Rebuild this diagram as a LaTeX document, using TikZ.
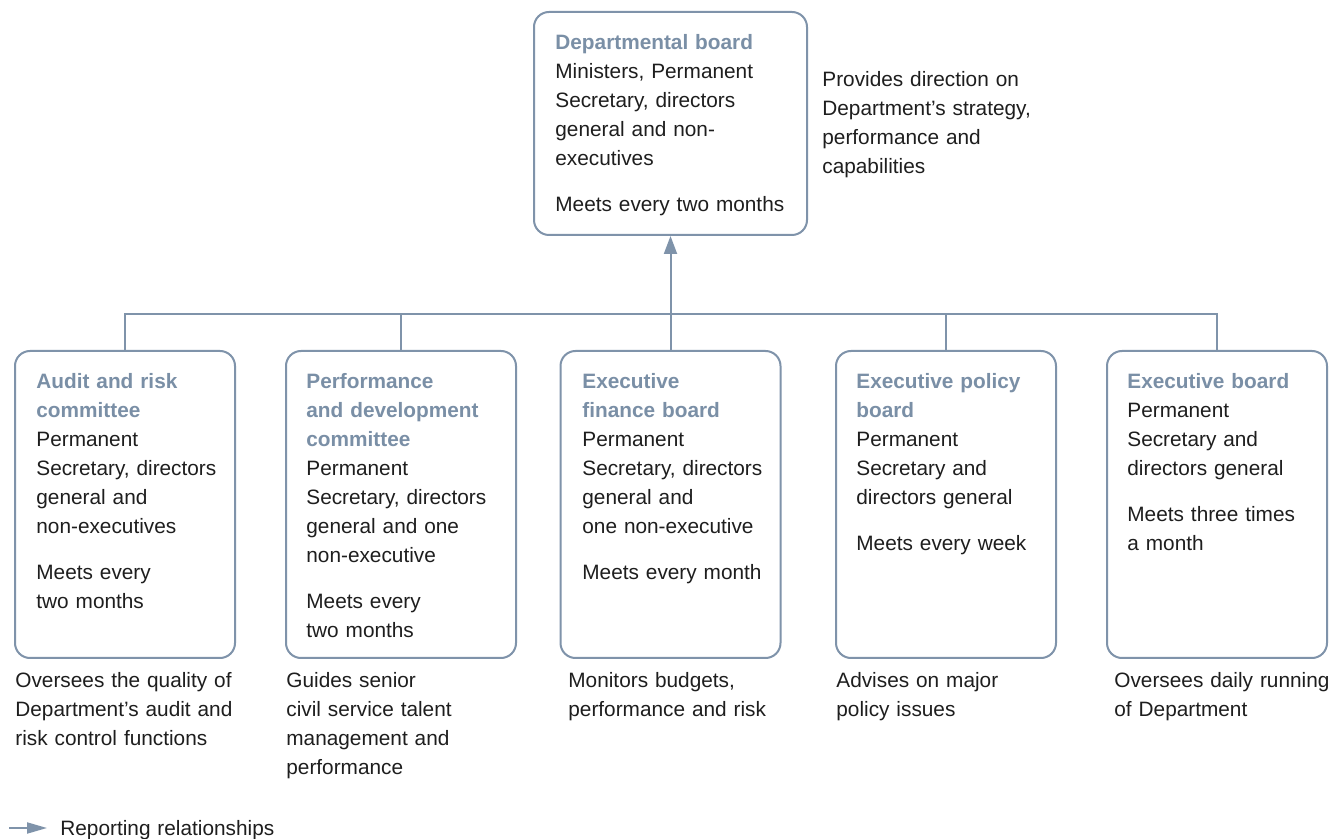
\documentclass[tikz,border=0pt]{standalone}
\usepackage{fontspec}
\setmainfont{Liberation Sans}
\usetikzlibrary{arrows.meta}
\definecolor{lineblue}{RGB}{127,147,170}
\definecolor{titleblue}{RGB}{122,143,166}
\definecolor{bodytext}{RGB}{30,30,30}
\newcommand\bxtitle[1]{{\bfseries\color{titleblue}#1}}
\begin{document}
\begin{tikzpicture}[x=0.5pt,y=-0.5pt,
  board/.style={draw=lineblue,line width=1pt,rounded corners=7.5pt,inner sep=0pt,fill=white},
  txt/.style={anchor=base west,inner sep=0pt,text width=150pt,align=left,
    font=\fontsize{10.4}{14.5}\selectfont,text=bodytext},
  conn/.style={draw=lineblue,line width=1pt}]
\useasboundingbox[fill=white] (0,0) rectangle (1330,839);
% boxes
\node[board,minimum width=136.5pt,minimum height=111.5pt] (top) at (670.5,123.5) {};
\node[board,minimum width=110pt,minimum height=153.5pt] (b1) at (125,504.5) {};
\node[board,minimum width=115pt,minimum height=153.5pt] (b2) at (401,504.5) {};
\node[board,minimum width=110pt,minimum height=153.5pt] (b3) at (670.5,504.5) {};
\node[board,minimum width=110pt,minimum height=153.5pt] (b4) at (946,504.5) {};
\node[board,minimum width=110pt,minimum height=153.5pt] (b5) at (1217,504.5) {};
% connectors
\coordinate (hub) at (670.5,314);
\draw[conn] (b1.north) -- (b1.north |- hub) -- (b5.north |- hub) -- (b5.north);
\draw[conn] (b2.north) -- (b2.north |- hub);
\draw[conn] (b3.north) -- (hub);
\draw[conn] (b4.north) -- (b4.north |- hub);
\draw[conn,-{Triangle[length=9pt,width=6.5pt]}] (hub) -- (top.south);
% top box text
\node[txt] (ttop) at (555,50) {\bxtitle{Departmental board}\\
Ministers, Permanent\\ Secretary, directors\\ general and non-\\ executives\\[8.5pt]
Meets every two months};
\node[txt] (rtop) at (822,87) {Provides direction on\\ Department’s strategy,\\ performance and\\ capabilities};
% box texts
\node[txt] (t1) at (36,389) {\bxtitle{Audit and risk}\\ \bxtitle{committee}\\
Permanent\\ Secretary, directors\\ general and\\ non-executives\\[8.5pt]
Meets every\\ two months};
\node[txt] (t2) at (306,389) {\bxtitle{Performance}\\ \bxtitle{and development}\\ \bxtitle{committee}\\
Permanent\\ Secretary, directors\\ general and one\\ non-executive\\[8.5pt]
Meets every\\ two months};
\node[txt] (t3) at (582,389) {\bxtitle{Executive}\\ \bxtitle{finance board}\\
Permanent\\ Secretary, directors\\ general and\\ one non-executive\\[8.5pt]
Meets every month};
\node[txt] (t4) at (856,389) {\bxtitle{Executive policy}\\ \bxtitle{board}\\
Permanent\\ Secretary and\\ directors general\\[8.5pt]
Meets every week};
\node[txt] (t5) at (1127,389) {\bxtitle{Executive board}\\
Permanent\\ Secretary and\\ directors general\\[8.5pt]
Meets three times\\ a month};
% below texts
\node[txt] (d1) at (15,688) {Oversees the quality of\\ Department’s audit and\\ risk control functions};
\node[txt] (d2) at (286,688) {Guides senior\\ civil service talent\\ management and\\ performance};
\node[txt] (d3) at (568,688) {Monitors budgets,\\ performance and risk};
\node[txt] (d4) at (836,688) {Advises on major\\ policy issues};
\node[txt] (d5) at (1114,688) {Oversees daily running\\ of Department};
% legend
\coordinate (la) at (9,828);
\coordinate (lb) at (47,828);
\draw[conn,-{Triangle[length=10pt,width=5.5pt]}] (la) -- (lb);
\node[txt] (leg) at (60,836) {Reporting relationships};
\end{tikzpicture}
\end{document}
